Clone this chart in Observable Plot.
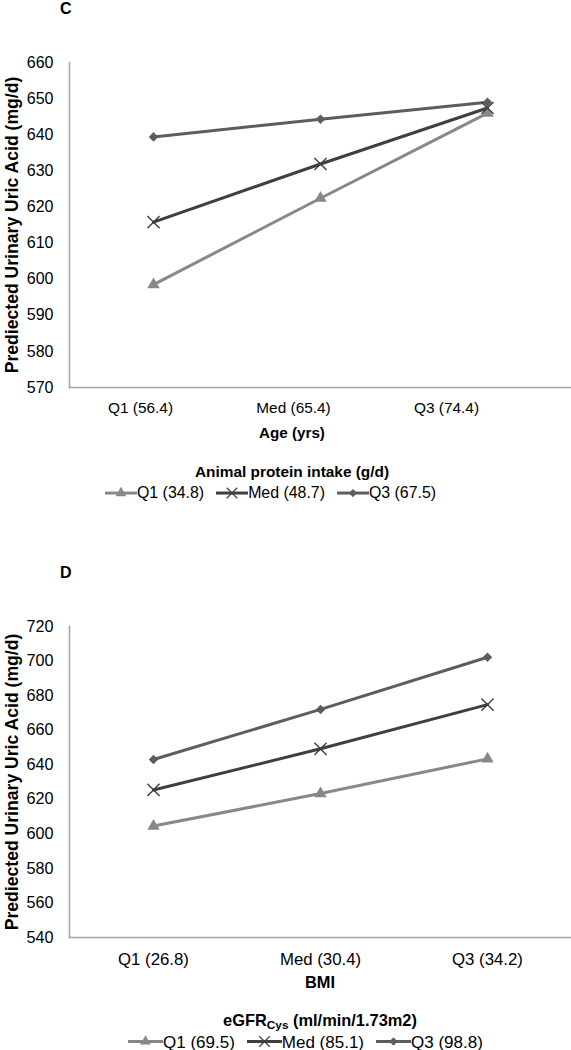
<!DOCTYPE html>
<html><head><meta charset="utf-8">
<script src="https://cdn.jsdelivr.net/npm/d3@7"></script>
<script src="https://cdn.jsdelivr.net/npm/@observablehq/plot@0.6"></script>
<style>
body{margin:0;background:#fff;font-family:"Liberation Sans",Arial,sans-serif;color:#000}
#root{position:relative;width:571px;height:1050px;overflow:hidden;background:#fff}
.abs{position:absolute;white-space:nowrap;line-height:1}
.ctr{transform:translate(-50%,-50%)}
.vc{transform:translateY(-50%)}
.b{font-weight:bold}
.legend{display:flex;align-items:center}
.item{display:flex;align-items:center}
.item svg{display:block}
</style></head><body><div id="root"></div>
<script>
// ---------- Panel C data ----------
const categoriesC = ["Q1 (56.4)", "Med (65.4)", "Q3 (74.4)"];
const seriesC = ["Q1 (34.8)", "Med (48.7)", "Q3 (67.5)"];
const q1C = [598.5, 622.4, 646.0];
const medC = [615.8, 631.9, 647.4];
const q3C = [639.4, 644.3, 649.0];
const yTicksC = [570, 580, 590, 600, 610, 620, 630, 640, 650, 660];

// ---------- Panel D data ----------
const categoriesD = ["Q1 (26.8)", "Med (30.4)", "Q3 (34.2)"];
const seriesD = ["Q1 (69.5)", "Med (85.1)", "Q3 (98.8)"];
const q1D = [604.5, 623.3, 643.4];
const medD = [625.4, 649.2, 674.8];
const q3D = [643.0, 672.0, 702.2];
const yTicksD = [540, 560, 580, 600, 620, 640, 660, 680, 700, 720];

const yTitle = "Prediected Urinary Uric Acid (mg/d)";
const colors = ["#888888", "#3f3f3f", "#5d5d5d"];
const symbols = ["triangle", "times", "diamond2"];
const symR = [4.6, 5.6, 4.3];
const FONT = '"Liberation Sans", Arial, sans-serif';

const root = document.getElementById("root");

function addText(html, x, y, cls, size) {
  const d = document.createElement("div");
  d.className = "abs " + cls;
  d.style.left = x + "px";
  d.style.top = y + "px";
  d.style.fontSize = size + "px";
  d.innerHTML = html;
  root.appendChild(d);
  return d;
}

function place(node, top) {
  const wrap = document.createElement("div");
  wrap.className = "abs";
  wrap.style.left = "0px";
  wrap.style.top = top + "px";
  wrap.appendChild(node);
  root.appendChild(wrap);
}

function makePanel(o) {
  const rows = [];
  o.series.forEach((s, i) => o.values[i].forEach((v, j) => rows.push({cat: o.categories[j], series: s, value: v, k: i})));
  const marks = [
    Plot.frame({anchor: "left", stroke: "#a3a3a3", strokeWidth: 1.5}),
    Plot.frame({anchor: "bottom", stroke: "#a3a3a3", strokeWidth: 1.5}),
    Plot.axisY({ticks: o.yTicks, tickSize: 0, tickPadding: 16, fontSize: o.yFont}),
    Plot.text([yTitle], {frameAnchor: "left", textAnchor: "middle", lineAnchor: "middle", dx: -57, rotate: -90, fontWeight: "bold", fontSize: o.titleSize})
  ];
  if (!o.xAxisSeparate) marks.push(Plot.axisX({tickSize: 0, tickPadding: o.xPad, fontSize: o.xFont}));
  o.series.forEach((s, i) => {
    const sub = rows.filter(r => r.k === i);
    marks.push(Plot.line(sub, {x: "cat", y: "value", stroke: colors[i], strokeWidth: 3}));
  });
  o.series.forEach((s, i) => {
    const sub = rows.filter(r => r.k === i);
    if (symbols[i] === "times") {
      marks.push(Plot.dot(sub, {x: "cat", y: "value", symbol: () => symbols[i], r: symR[i], stroke: colors[i], strokeWidth: 1.4, fill: "none"}));
    } else {
      marks.push(Plot.dot(sub, {x: "cat", y: "value", symbol: () => symbols[i], r: symR[i], fill: colors[i], stroke: "none"}));
    }
  });
  const chart = Plot.plot({
    width: 571, height: o.height,
    marginLeft: 69, marginRight: 0, marginTop: o.marginTop, marginBottom: o.marginBottom,
    style: {fontFamily: FONT, fontSize: o.yFont + "px", color: "#000", background: "transparent", overflow: "visible"},
    x: {type: "point", domain: o.categories, padding: 0.5, label: null, axis: o.xAxisSeparate ? null : undefined},
    y: {domain: [o.yTicks[0], o.yTicks[o.yTicks.length - 1]], label: null},
    symbol: {domain: o.series, range: symbols},
    marks
  });
  place(chart, o.top);
  if (o.xAxisSeparate) {
    // the category labels of panel C sit on a slightly narrower band than the points
    const axisOnly = Plot.plot({
      width: 571, height: o.height,
      marginLeft: 63.5, marginRight: 48.5, marginTop: o.marginTop, marginBottom: o.marginBottom,
      style: {fontFamily: FONT, fontSize: o.xFont + "px", color: "#000", background: "transparent", overflow: "visible"},
      x: {type: "point", domain: o.categories, padding: 0.5, label: null},
      marks: [Plot.axisX({tickSize: 0, tickPadding: o.xPad, fontSize: o.xFont})]
    });
    place(axisOnly, o.top);
  }
}

function swatch(i, w) {
  const h = 14;
  const svg = d3.create("svg").attr("width", w).attr("height", h);
  svg.append("line").attr("x1", 0).attr("x2", w).attr("y1", h / 2).attr("y2", h / 2)
    .attr("stroke", colors[i]).attr("stroke-width", 3);
  const symMap = {triangle: d3.symbolTriangle, times: d3.symbolTimes, diamond2: d3.symbolDiamond2};
  const sz = Math.PI * symR[i] * symR[i] * 0.75;
  const p = svg.append("path").attr("d", d3.symbol(symMap[symbols[i]], sz)())
    .attr("transform", `translate(${w / 2},${h / 2})`);
  if (symbols[i] === "times") p.attr("stroke", colors[i]).attr("stroke-width", 1.3).attr("fill", "none");
  else p.attr("fill", colors[i]);
  return svg.node();
}

function makeLegend(series, x, y, size, w, gap) {
  const d = document.createElement("div");
  d.className = "abs legend vc";
  d.style.left = x + "px";
  d.style.top = y + "px";
  d.style.fontSize = size + "px";
  d.style.gap = gap + "px";
  series.forEach((s, i) => {
    const it = document.createElement("div");
    it.className = "item";
    it.appendChild(swatch(i, w));
    const t = document.createElement("span");
    t.textContent = s;
    it.appendChild(t);
    d.appendChild(it);
  });
  root.appendChild(d);
}

// Panel C
addText("C", 60, 8.5, "b vc", 16);
makePanel({top: 0, height: 430, marginTop: 62, marginBottom: 43, categories: categoriesC, series: seriesC,
  values: [q1C, medC, q3C], yTicks: yTicksC, yFont: 16, xFont: 15.4, titleSize: 17.6, xPad: 15, xAxisSeparate: true});
addText("Age (yrs)", 292, 433, "b ctr", 15.2);
addText("Animal protein intake (g/d)", 292, 472, "b ctr", 15.4);
makeLegend(seriesC, 105, 493, 15.9, 32, 12);

// Panel D
addText("D", 60, 573, "b vc", 16);
makePanel({top: 540, height: 440, marginTop: 86, marginBottom: 43, categories: categoriesD, series: seriesD,
  values: [q1D, medD, q3D], yTicks: yTicksD, yFont: 16.2, xFont: 16.8, titleSize: 17.6, xPad: 16, xAxisSeparate: false});
addText("BMI", 320, 982, "b ctr", 16.4);
addText("eGFR<sub style=\"font-size:0.72em;vertical-align:-0.25em\">Cys</sub> (ml/min/1.73m2)", 320, 1022, "b ctr", 16.4);
makeLegend(seriesD, 128, 1041.5, 17, 35, 12);
</script></body></html>
